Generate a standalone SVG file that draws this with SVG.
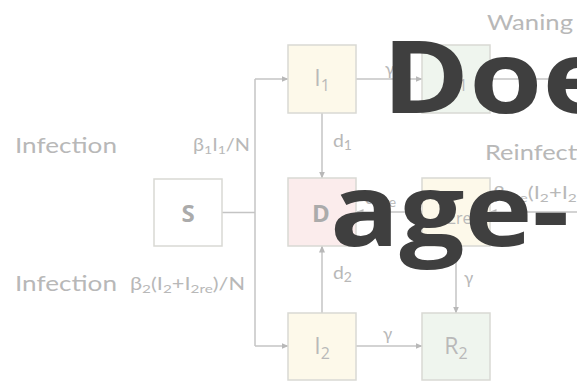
<svg xmlns="http://www.w3.org/2000/svg" width="577" height="381" viewBox="0 0 577 381">
  <style>
    .box { stroke: #d9d9d4; stroke-width: 1.5; }
    .yel { fill: #fdf9ea; }
    .grn { fill: #eff5ee; }
    .pnk { fill: #fbecec; }
    .wht { fill: #ffffff; }
    .wire { fill: none; stroke: #c4c4c4; stroke-width: 1.5; }
    .lbl { font-family: Lato, "Open Sans", sans-serif; fill: #b8b8b8; }
    .node { font-family: "Open Sans", "Noto Sans", sans-serif; fill: #b9b9b9; font-size: 23px; text-anchor: middle; }
    .heavy { font-weight: 700; fill: #ababab; font-size: 24px; }
    .title { font-family: "Open Sans", "Noto Sans", sans-serif; font-weight: 700; font-size: 100px; fill: #3f3f3f; }
  </style>
  <defs>
    <marker id="arrow" markerWidth="7" markerHeight="6" refX="6.5" refY="3" orient="auto" markerUnits="userSpaceOnUse">
      <path d="M0,0 L7,3 L0,6 Z" fill="#b8b8b8"/>
    </marker>
  </defs>

  <rect width="577" height="381" fill="#ffffff"/>

  <!-- connectors -->
  <g id="connectors">
    <path class="wire" d="M222 212.5 H255"/>
    <path class="wire" d="M255 79 V346"/>
    <path class="wire" d="M255 79 H288" marker-end="url(#arrow)"/>
    <path class="wire" d="M255 346 H288" marker-end="url(#arrow)"/>
    <path class="wire" d="M356 79 H422" marker-end="url(#arrow)"/>
    <path class="wire" d="M322 113 V178" marker-end="url(#arrow)"/>
    <path class="wire" d="M322 313 V246" marker-end="url(#arrow)"/>
    <path class="wire" d="M356 346 H422" marker-end="url(#arrow)"/>
    <path class="wire" d="M422 212 H357" marker-end="url(#arrow)"/>
    <path class="wire" d="M456 246 V313" marker-end="url(#arrow)"/>
    <path class="wire" d="M577 212 H490" marker-end="url(#arrow)"/>
    <path class="wire" d="M490 79 H577"/>

    <text class="lbl" x="15" y="153" font-size="22" textLength="102" lengthAdjust="spacingAndGlyphs">Infection</text>
    <text class="lbl" x="193" y="151" font-size="17" textLength="57" lengthAdjust="spacingAndGlyphs">β<tspan font-size="12" dy="3">1</tspan><tspan dy="-3">I</tspan><tspan font-size="12" dy="3">1</tspan><tspan dy="-3">/N</tspan></text>
    <text class="lbl" x="15" y="291" font-size="22" textLength="102" lengthAdjust="spacingAndGlyphs">Infection</text>
    <text class="lbl" x="130" y="290" font-size="17" textLength="115" lengthAdjust="spacingAndGlyphs">β<tspan font-size="12" dy="3">2</tspan><tspan dy="-3">(I</tspan><tspan font-size="12" dy="3">2</tspan><tspan dy="-3">+I</tspan><tspan font-size="12" dy="3">2re</tspan><tspan dy="-3">)/N</tspan></text>
    <text class="lbl" x="487" y="30" font-size="22" textLength="86" lengthAdjust="spacingAndGlyphs">Waning</text>
    <text class="lbl" x="485" y="160" font-size="22" textLength="127" lengthAdjust="spacingAndGlyphs">Reinfection</text>
    <text class="lbl" x="493" y="199" font-size="17" textLength="130" lengthAdjust="spacingAndGlyphs">β<tspan font-size="12" dy="3">2re</tspan><tspan dy="-3">(I</tspan><tspan font-size="12" dy="3">2</tspan><tspan dy="-3">+I</tspan><tspan font-size="12" dy="3">2re</tspan><tspan dy="-3">)/N</tspan></text>
    <text class="lbl" x="385" y="75" font-size="17">γ</text>
    <text class="lbl" x="383" y="340" font-size="17">γ</text>
    <text class="lbl" x="464" y="284" font-size="17">γ</text>
    <text class="lbl" x="333" y="147" font-size="18" textLength="19" lengthAdjust="spacingAndGlyphs">d<tspan font-size="13" dy="3">1</tspan></text>
    <text class="lbl" x="333" y="279" font-size="18" textLength="19" lengthAdjust="spacingAndGlyphs">d<tspan font-size="13" dy="3">2</tspan></text>
    <text class="lbl" x="365" y="204" font-size="18" textLength="31" lengthAdjust="spacingAndGlyphs">d<tspan font-size="13" dy="3">2re</tspan></text>
  </g>

  <!-- compartments -->
  <g id="S">
    <rect class="box wht" x="154" y="179" width="68" height="67"/>
    <text class="node heavy" x="188" y="222">S</text>
  </g>
  <g id="I1">
    <rect class="box yel" x="288" y="45" width="68" height="68"/>
    <text class="node" x="322" y="86">I<tspan font-size="16" dy="5">1</tspan></text>
  </g>
  <g id="R1">
    <rect class="box grn" x="422" y="45" width="68" height="68"/>
    <text class="node" x="456" y="86">R<tspan font-size="16" dy="5">1</tspan></text>
  </g>
  <g id="D">
    <rect class="box pnk" x="288" y="178" width="68" height="68"/>
    <text class="node heavy" x="321" y="222">D</text>
  </g>
  <g id="I2re">
    <rect class="box yel" x="422" y="178" width="68" height="68"/>
    <text class="node" x="456" y="219">I<tspan font-size="16" dy="5">2re</tspan></text>
  </g>
  <g id="I2">
    <rect class="box yel" x="288" y="313" width="68" height="67"/>
    <text class="node" x="322" y="354">I<tspan font-size="16" dy="5">2</tspan></text>
  </g>
  <g id="R2">
    <rect class="box grn" x="422" y="313" width="68" height="67"/>
    <text class="node" x="456" y="354">R<tspan font-size="16" dy="5">2</tspan></text>
  </g>

  <!-- heading over the diagram, set wide -->
  <text class="title" transform="translate(382 113) scale(1.18 1)">Doe</text>
  <text class="title" transform="translate(330 246) scale(1.15 1)">age-</text>
</svg>
